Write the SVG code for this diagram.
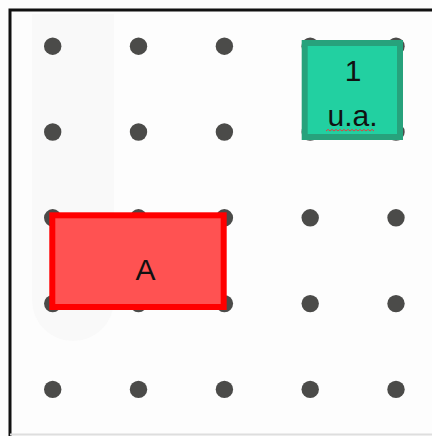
<svg xmlns="http://www.w3.org/2000/svg" width="432" height="436" viewBox="0 0 432 436">
  <style>
    .dot { fill: #4b4b49; }
    .lbl { font-family: "Liberation Sans", Arial, sans-serif; font-size: 30px; fill: #111; text-anchor: middle; }
    .frame { stroke: #111; stroke-width: 3; fill: none; }
  </style>
  <defs>
    <circle id="d" r="8.7" class="dot"/>
  </defs>
  <rect x="0" y="0" width="432" height="436" fill="#fdfdfd"/>
  <path d="M32,14 H114 V300 A41,41 0 0 1 32,300 Z" fill="#f9f9f9"/>
  <g id="frame">
    <path class="frame" d="M10,436 V10 H432"/>
    <line x1="10" y1="434.5" x2="432" y2="434.5" stroke="#dedede" stroke-width="2"/>
  </g>
  <g id="dots">
    <use href="#d" x="52.7" y="46.2"/><use href="#d" x="138.5" y="46.2"/><use href="#d" x="224.4" y="46.2"/><use href="#d" x="310.2" y="46.2"/><use href="#d" x="396" y="46.2"/>
    <use href="#d" x="52.7" y="132"/><use href="#d" x="138.5" y="132"/><use href="#d" x="224.4" y="132"/><use href="#d" x="310.2" y="132"/><use href="#d" x="396" y="132"/>
    <use href="#d" x="52.7" y="217.8"/><use href="#d" x="138.5" y="217.8"/><use href="#d" x="224.4" y="217.8"/><use href="#d" x="310.2" y="217.8"/><use href="#d" x="396" y="217.8"/>
    <use href="#d" x="52.7" y="303.6"/><use href="#d" x="138.5" y="303.6"/><use href="#d" x="224.4" y="303.6"/><use href="#d" x="310.2" y="303.6"/><use href="#d" x="396" y="303.6"/>
    <use href="#d" x="52.7" y="389.4"/><use href="#d" x="138.5" y="389.4"/><use href="#d" x="224.4" y="389.4"/><use href="#d" x="310.2" y="389.4"/><use href="#d" x="396" y="389.4"/>
  </g>
  <g id="unit">
    <rect x="304.7" y="43" width="95.3" height="94" fill="#22d0a1" stroke="#27a27c" stroke-width="6"/>
    <text class="lbl" x="353" y="81">1</text>
    <text class="lbl" x="352.5" y="126">u.a.</text>
    <path d="M326,131 l2,-1.6 l2,1.6 l2,-1.6 l2,1.6 l2,-1.6 l2,1.6 l2,-1.6 l2,1.6 l2,-1.6 l2,1.6 l2,-1.6 l2,1.6 l2,-1.6 l2,1.6 l2,-1.6 l2,1.6 l2,-1.6 l2,1.6 l2,-1.6 l2,1.6 l2,-1.6 l2,1.6 l2,-1.6 l2,1.6" fill="none" stroke="#e04040" stroke-width="1"/>
  </g>
  <g id="A">
    <rect x="52.3" y="215.3" width="171.4" height="91.7" fill="#ff5252" stroke="#ff0000" stroke-width="6"/>
    <text class="lbl" x="145.5" y="280">A</text>
  </g>
</svg>
